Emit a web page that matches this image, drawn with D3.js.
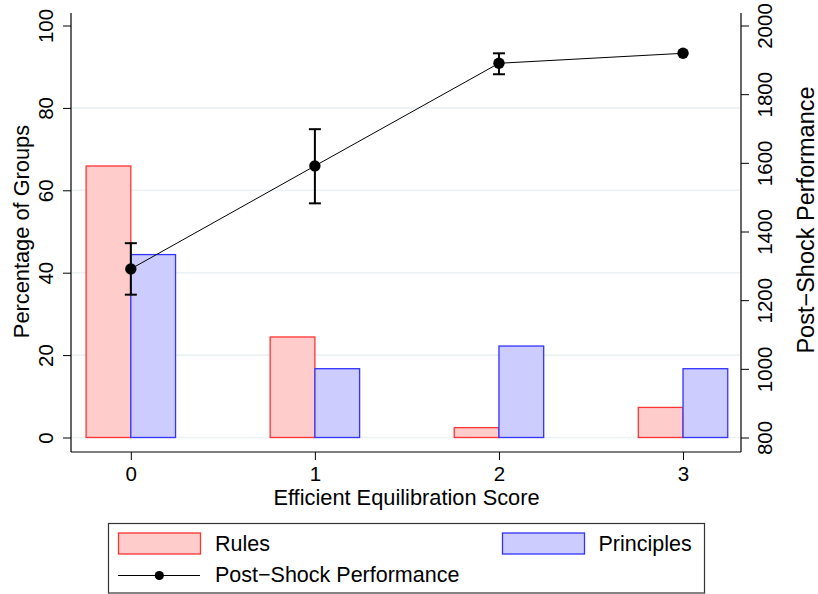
<!DOCTYPE html>
<html>
<head>
<meta charset="utf-8">
<script src="https://cdn.jsdelivr.net/npm/d3@7"></script>
<style>
  html, body { margin: 0; padding: 0; background: #fff; }
  svg { display: block; font-family: "Liberation Sans", Arial, Helvetica, sans-serif; }
</style>
</head>
<body>
<svg id="chart" width="818" height="594"></svg>
<script>
// ---- data ----
const categories = [0, 1, 2, 3];
const rulesPct = [65.9, 24.4, 2.4, 7.3];
const principlesPct = [44.4, 16.7, 22.2, 16.7];
const perfMean = [1291, 1591, 1890, 1919];
const perfLow = [1216, 1482, 1858, null];
const perfHigh = [1366, 1698, 1919, null];
const leftTicks = [0, 20, 40, 60, 80, 100];
const gridTicks = [0, 20, 40, 60, 80];
const rightTicks = [800, 1000, 1200, 1400, 1600, 1800, 2000];
const seriesNames = ["Rules", "Principles", "Post\u2212Shock Performance"];

// ---- layout ----
const svg = d3.select("#chart");
const plotL = 71, plotR = 741, plotTop = 13, axisY = 452;

const x = d3.scaleLinear().domain([-0.325, 3.315]).range([plotL, plotR]);
const yL = d3.scaleLinear().domain([0, 100]).range([437.5, 25.5]);
const yR = d3.scaleLinear().domain([800, 2000]).range([437.5, 25.5]);
const barW = 0.243;
const fmt = d3.format("d");

// gridlines
svg.append("g").selectAll("line").data(gridTicks).join("line")
  .attr("x1", plotL + 1).attr("x2", plotR - 1)
  .attr("y1", d => yL(d)).attr("y2", d => yL(d))
  .attr("stroke", "#eaf2f3").attr("stroke-width", 1.6);

// bars
const barG = svg.append("g");
barG.selectAll("rect.rules").data(categories).join("rect")
  .attr("class", "rules")
  .attr("x", (d) => x(d - barW)).attr("width", (d) => x(d) - x(d - barW))
  .attr("y", (d, i) => yL(rulesPct[i])).attr("height", (d, i) => yL(0) - yL(rulesPct[i]))
  .attr("fill", "#ffcccc").attr("stroke", "#ff3333").attr("stroke-width", 1.3);
barG.selectAll("rect.princ").data(categories).join("rect")
  .attr("class", "princ")
  .attr("x", (d) => x(d)).attr("width", (d) => x(d + barW) - x(d))
  .attr("y", (d, i) => yL(principlesPct[i])).attr("height", (d, i) => yL(0) - yL(principlesPct[i]))
  .attr("fill", "#ccccff").attr("stroke", "#3333ff").attr("stroke-width", 1.3);

// line
const line = d3.line().x((d, i) => x(categories[i])).y(d => yR(d));
svg.append("path").datum(perfMean).attr("d", line)
  .attr("fill", "none").attr("stroke", "#000").attr("stroke-width", 1);

// error bars
const errG = svg.append("g");
categories.forEach((c, i) => {
  if (perfLow[i] == null) return;
  const cx = x(c);
  errG.append("line").attr("x1", cx).attr("x2", cx)
    .attr("y1", yR(perfLow[i])).attr("y2", yR(perfHigh[i]))
    .attr("stroke", "#000").attr("stroke-width", 2);
  [perfLow[i], perfHigh[i]].forEach(v => {
    errG.append("line").attr("x1", cx - 6).attr("x2", cx + 6)
      .attr("y1", yR(v)).attr("y2", yR(v))
      .attr("stroke", "#000").attr("stroke-width", 2);
  });
});

// points
svg.append("g").selectAll("circle").data(perfMean).join("circle")
  .attr("cx", (d, i) => x(categories[i])).attr("cy", d => yR(d))
  .attr("r", 5.7).attr("fill", "#000");

// axes
const fontTick = 20.5;
// x axis
const xAxis = d3.axisBottom(x).tickValues(categories).tickFormat(fmt).tickSize(8).tickSizeOuter(0);
const gx = svg.append("g").attr("transform", `translate(0,${axisY})`).call(xAxis);
gx.select(".domain").remove();
gx.selectAll(".tick line").attr("stroke", "#000");
gx.selectAll(".tick text").attr("y", 29).attr("dy", 0)
  .attr("font-size", fontTick).attr("font-family", "Liberation Sans, Arial, sans-serif").attr("fill", "#000");
svg.append("line").attr("x1", plotL).attr("x2", plotR).attr("y1", axisY).attr("y2", axisY)
  .attr("stroke", "#000").attr("stroke-width", 1.2);

// left axis
const yAxisL = d3.axisLeft(yL).tickValues(leftTicks).tickFormat(fmt).tickSize(8).tickSizeOuter(0);
const gl = svg.append("g").attr("transform", `translate(${plotL},0)`).call(yAxisL);
gl.select(".domain").remove();
gl.selectAll(".tick line").attr("stroke", "#000");
gl.selectAll(".tick text").attr("x", 0).attr("dy", 0)
  .attr("transform", "translate(-18,0) rotate(-90)")
  .attr("text-anchor", "middle")
  .attr("font-size", fontTick).attr("font-family", "Liberation Sans, Arial, sans-serif").attr("fill", "#000");
svg.append("line").attr("x1", plotL).attr("x2", plotL).attr("y1", plotTop).attr("y2", axisY)
  .attr("stroke", "#000").attr("stroke-width", 1.2);

// right axis
const yAxisR = d3.axisRight(yR).tickValues(rightTicks).tickFormat(fmt).tickSize(8).tickSizeOuter(0);
const gr = svg.append("g").attr("transform", `translate(${plotR},0)`).call(yAxisR);
gr.select(".domain").remove();
gr.selectAll(".tick line").attr("stroke", "#000");
gr.selectAll(".tick text").attr("x", 0).attr("dy", 0)
  .attr("transform", "translate(30.5,0) rotate(-90)")
  .attr("text-anchor", "middle")
  .attr("font-size", fontTick).attr("font-family", "Liberation Sans, Arial, sans-serif").attr("fill", "#000");
svg.append("line").attr("x1", plotR).attr("x2", plotR).attr("y1", plotTop).attr("y2", axisY)
  .attr("stroke", "#000").attr("stroke-width", 1.2);

// axis titles
svg.append("text").attr("x", 406.5).attr("y", 505).attr("text-anchor", "middle")
  .attr("font-size", 21.8).attr("fill", "#000").text("Efficient Equilibration Score");
svg.append("text").attr("transform", "translate(28.5,231.5) rotate(-90)").attr("text-anchor", "middle")
  .attr("font-size", 21.8).attr("fill", "#000").text("Percentage of Groups");
svg.append("text").attr("transform", "translate(813.5,220) rotate(-90)").attr("text-anchor", "middle")
  .attr("font-size", 23.5).attr("fill", "#000").text("Post\u2212Shock Performance");

// legend
const lg = svg.append("g");
lg.append("rect").attr("x", 108.5).attr("y", 523.5).attr("width", 596).attr("height", 69.5)
  .attr("fill", "#fff").attr("stroke", "#333").attr("stroke-width", 1.2);
lg.append("rect").attr("x", 118.5).attr("y", 533).attr("width", 82).attr("height", 21)
  .attr("fill", "#ffcccc").attr("stroke", "#ff3333").attr("stroke-width", 1.3);
lg.append("text").attr("x", 215).attr("y", 551).attr("font-size", 21.5).attr("fill", "#000").text(seriesNames[0]);
lg.append("rect").attr("x", 502.5).attr("y", 533).attr("width", 82).attr("height", 21)
  .attr("fill", "#ccccff").attr("stroke", "#3333ff").attr("stroke-width", 1.3);
lg.append("text").attr("x", 598.5).attr("y", 551).attr("font-size", 21.5).attr("fill", "#000").text(seriesNames[1]);
lg.append("line").attr("x1", 118).attr("x2", 200).attr("y1", 575.5).attr("y2", 575.5)
  .attr("stroke", "#000").attr("stroke-width", 1);
lg.append("circle").attr("cx", 159.3).attr("cy", 575.5).attr("r", 4.6).attr("fill", "#000");
lg.append("text").attr("x", 215).attr("y", 582).attr("font-size", 21.5).attr("fill", "#000").text(seriesNames[2]);
</script>
</body>
</html>
